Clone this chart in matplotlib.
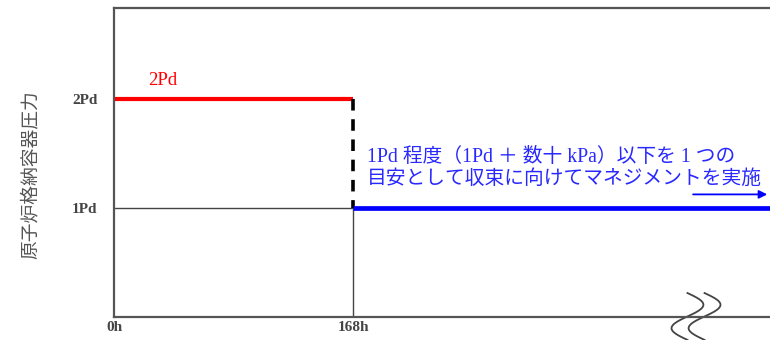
import numpy as np
import matplotlib.pyplot as plt

# データ
times = [0, 168]
xtick_labels = ['0h', '168h']
levels = [1, 2]
ytick_labels = ['1Pd', '2Pd']
red_label = '2Pd'
ylabel = '原子炉格納容器圧力'
note_lines = ['1Pd 程度（1Pd ＋ 数十 kPa）以下を 1 つの',
              '目安として収束に向けてマネジメントを実施']

serif = ['Liberation Serif', 'Noto Sans CJK JP']
plt.rcParams['font.family'] = serif

fig = plt.figure(figsize=(7.7, 3.4), dpi=100)
ax = fig.add_axes([0.148, 0.0676, 0.852, 0.9088])
xmax = 461
ax.set_xlim(0, xmax)
ax.set_ylim(0, 2.835)

for s in ['left', 'bottom', 'top']:
    ax.spines[s].set_color('#555555')
    ax.spines[s].set_linewidth(1.6)
ax.spines['right'].set_visible(False)

ax.set_xticks(times)
ax.set_xticklabels(xtick_labels)
ax.set_yticks(levels)
ax.set_yticklabels(ytick_labels)
ax.tick_params(length=0, labelsize=11, labelcolor='#444444')
for lb in ax.get_xticklabels() + ax.get_yticklabels():
    lb.set_fontweight('bold')
ax.tick_params(axis='x', pad=3)
ax.tick_params(axis='y', pad=12)

# 1Pd 細線と168h縦線
ax.plot([times[0], times[1]], [levels[0], levels[0]], color='#444444', lw=1.0)
ax.plot([times[1], times[1]], [0, levels[0]], color='#444444', lw=1.0)

# 2Pd 赤線
ax.plot([times[0], times[1]], [levels[1], levels[1]], color='#ff0000', lw=3.0,
        solid_capstyle='butt')
ax.text(24, 2.17, red_label, color='#ff0000', fontsize=13.5, va='center')

# 破線（2Pd→1Pd）
ax.plot([times[1], times[1]], [levels[1], levels[0]], color='black', lw=2.6,
        dashes=(3.2, 2.4))

# 1Pd 青線
ax.plot([times[1], xmax], [levels[0], levels[0]], color='#0000ff', lw=3.4,
        solid_capstyle='butt')

# 注記
ax.text(178, 1.468, note_lines[0], color='#2828ff', fontsize=14.2, va='center')
ax.text(178, 1.266, note_lines[1], color='#2828ff', fontsize=14.2, va='center')
ax.annotate('', xy=(xmax, 1.125), xytext=(405, 1.125),
            arrowprops=dict(arrowstyle='-|>', color='#0000ff', lw=1.3,
                            mutation_scale=12), annotation_clip=False)

# 省略記号（波線）
yy = np.linspace(0.22, -0.21, 60)
ph = (0.22 - yy) / 0.43 * 2 * np.pi
for off in [0, 12]:
    ax.plot(403 + off + 11.2 * np.sin(ph), yy, color='#444444', lw=1.3,
            clip_on=False)

fig.text(30 / 770, 1 - 175 / 340, ylabel, rotation=90, ha='center', va='center',
         fontsize=13.5, color='#555555', family=['Noto Sans CJK JP'])

fig.savefig('out.png', dpi=100)
